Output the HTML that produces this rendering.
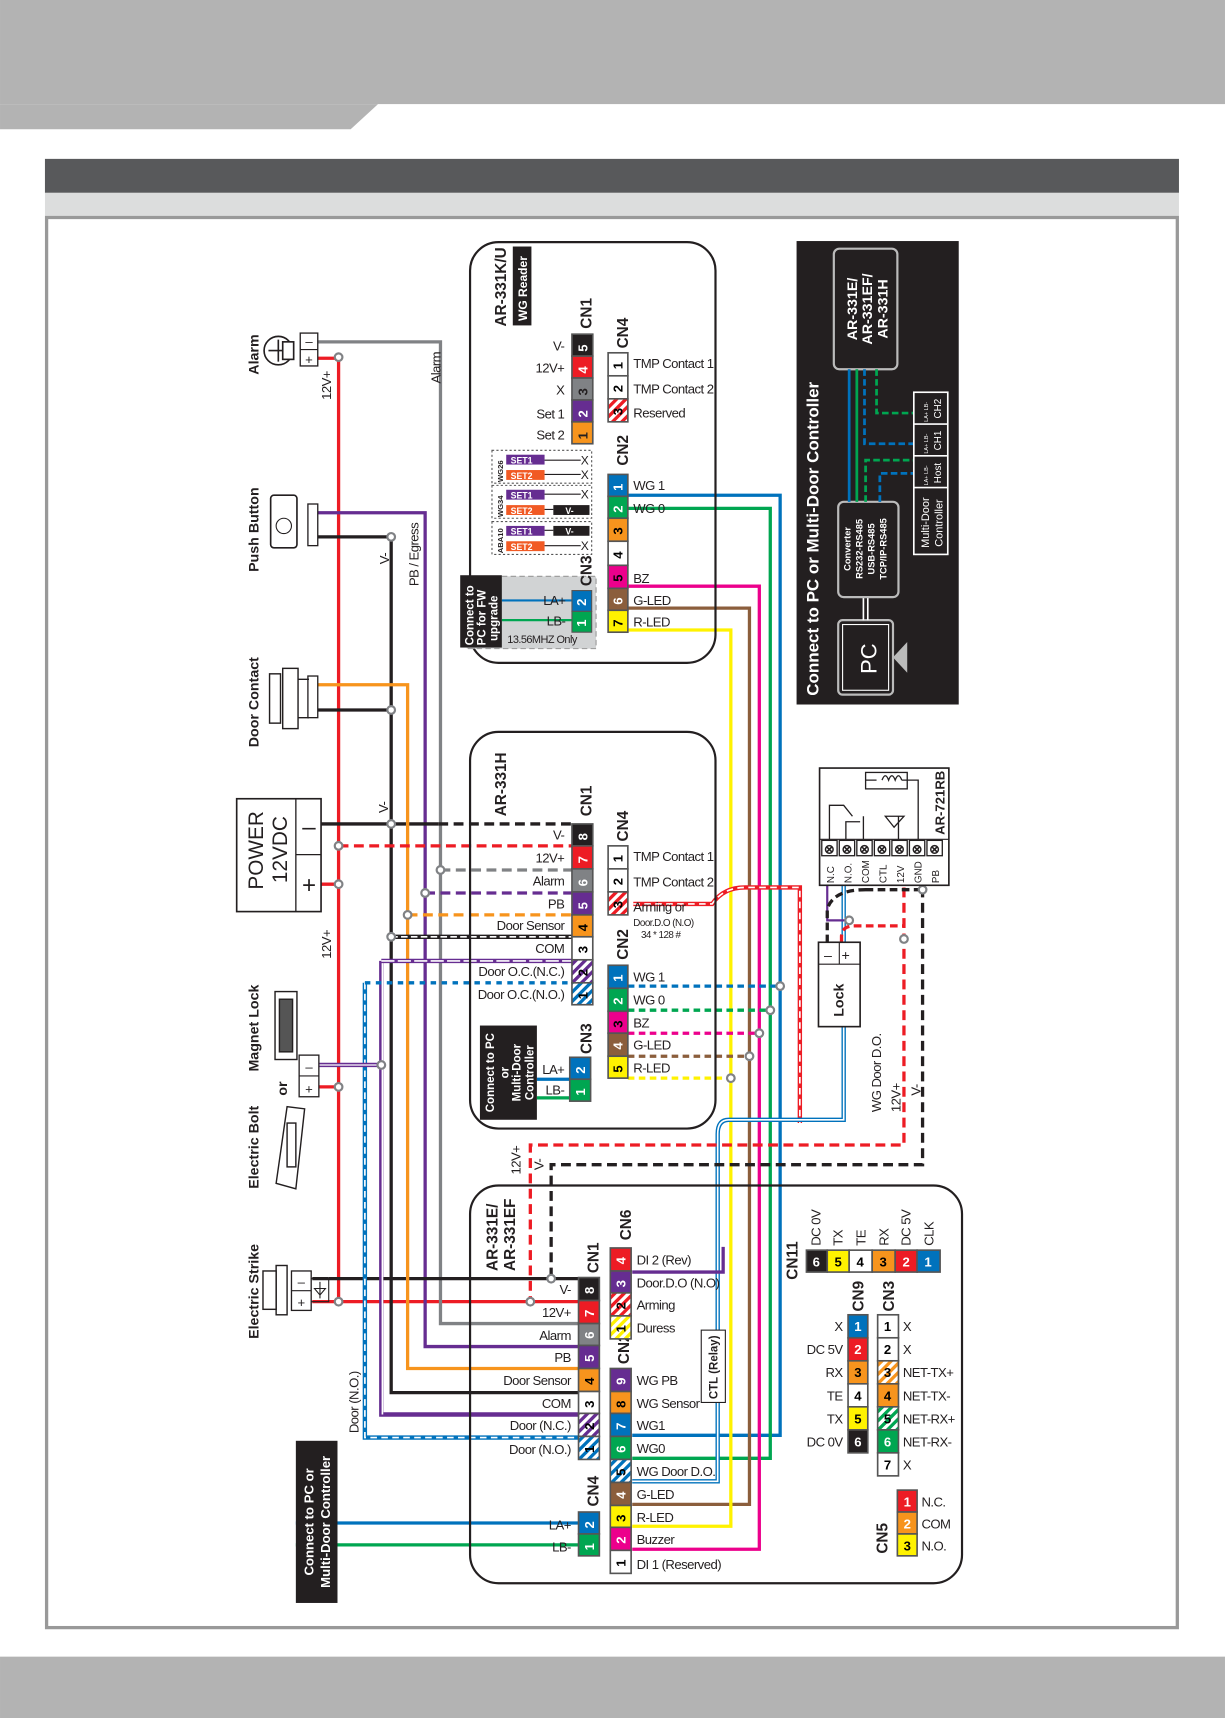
<!DOCTYPE html>
<html><head><meta charset="utf-8"><style>
html,body{margin:0;padding:0;background:#fff}
svg{display:block}
text{font-family:"Liberation Sans",sans-serif;}
.l{font-size:12px;fill:#231f20;letter-spacing:-0.5px}
.n{font-size:12px;font-weight:bold;}
.t{font-size:14px;font-weight:bold;fill:#231f20}
</style></head><body>
<svg width="1225" height="1718" viewBox="0 0 1118 1568" xmlns="http://www.w3.org/2000/svg">
<defs>
<pattern id="hr" width="6" height="6" patternUnits="userSpaceOnUse" patternTransform="rotate(45)"><rect width="6" height="6" fill="#fff"/><rect width="3" height="6" fill="#ed1c24"/></pattern>
<pattern id="hp" width="6" height="6" patternUnits="userSpaceOnUse" patternTransform="rotate(45)"><rect width="6" height="6" fill="#fff"/><rect width="3" height="6" fill="#662d91"/></pattern>
<pattern id="hb" width="6" height="6" patternUnits="userSpaceOnUse" patternTransform="rotate(45)"><rect width="6" height="6" fill="#fff"/><rect width="3" height="6" fill="#0072bc"/></pattern>
<pattern id="hy" width="6" height="6" patternUnits="userSpaceOnUse" patternTransform="rotate(45)"><rect width="6" height="6" fill="#fff"/><rect width="3" height="6" fill="#fff200"/></pattern>
<pattern id="ho" width="6" height="6" patternUnits="userSpaceOnUse" patternTransform="rotate(45)"><rect width="6" height="6" fill="#fff"/><rect width="3" height="6" fill="#f7941d"/></pattern>
<pattern id="hg" width="6" height="6" patternUnits="userSpaceOnUse" patternTransform="rotate(45)"><rect width="6" height="6" fill="#fff"/><rect width="3" height="6" fill="#00a651"/></pattern>
</defs>
<!-- page chrome -->
<rect x="0" y="0" width="1118" height="95" fill="#b3b3b3"/>
<polygon points="0,95 345,95 320,118 0,118" fill="#b3b3b3"/>
<rect x="41" y="145" width="1035" height="31" fill="#58595b"/>
<rect x="41" y="176" width="1035" height="21" fill="#dcdddd"/>
<rect x="42.5" y="198.5" width="1032" height="1287" fill="none" stroke="#999" stroke-width="3"/>
<rect x="0" y="1512" width="1118" height="56" fill="#b3b3b3"/>

<!-- ================= WIRES (left bus) ================= -->
<g fill="none" stroke-width="3">
<path d="M290,327 H309 V1188 H528" stroke="#ed1c24"/>
<path d="M290,807 H309" stroke="#ed1c24"/>
<path d="M290,992 H309" stroke="#ed1c24"/>
<path d="M290,312 H402 V1208 H528" stroke="#808285"/>
<path d="M290,468 H388 V1229 H528" stroke="#662d91"/>
<path d="M290,490 H357 V1271 H528" stroke="#231f20"/>
<path d="M290,648 H357" stroke="#231f20"/>
<path d="M290,752 H400" stroke="#231f20"/>
<path d="M300,1167 H528" stroke="#231f20"/>
<path d="M290,625 H372 V1249 H528" stroke="#f7941d"/>
<path d="M348,877 V1291 H528" stroke="#662d91" stroke-width="4"/>
<path d="M349,877 V1291" stroke="#fff" stroke-width="1.5"/>
<path d="M333,897 V1312 H528" stroke="#0072bc" stroke-width="4"/>
<path d="M333,897 V1312 H528" stroke="#fff" stroke-width="1.5" stroke-dasharray="6 4"/>
<path d="M290,972 H348" stroke="#662d91" stroke-width="4"/>
<path d="M290,972 H348" stroke="#fff" stroke-width="1.2"/>
<path d="M285,1167 H300" stroke="#231f20"/>
<path d="M285,1188 H309" stroke="#ed1c24"/>
<path d="M400,752 H522" stroke="#231f20" stroke-dasharray="9 5"/>
<path d="M309,772 H522" stroke="#ed1c24" stroke-dasharray="9 5"/>
<path d="M402,794 H522" stroke="#808285" stroke-dasharray="9 5"/>
<path d="M388,815 H522" stroke="#662d91" stroke-dasharray="9 5"/>
<path d="M372,835 H522" stroke="#f7941d" stroke-dasharray="9 5"/>
<path d="M357,855 H522" stroke="#231f20" stroke-width="4"/><path d="M357,855 H522" stroke="#fff" stroke-width="1.5" stroke-dasharray="6 3"/>
<path d="M348,877 H522" stroke="#662d91" stroke-width="4"/><path d="M348,877 H522" stroke="#fff" stroke-width="1.5" stroke-dasharray="12 3"/>
<path d="M333,897 H522" stroke="#0072bc" stroke-dasharray="5 5"/>
<path d="M270,1390 H528" stroke="#0072bc"/>
<path d="M270,1410 H528" stroke="#00a651"/>
<path d="M490,985 H520" stroke="#0072bc"/>
<path d="M490,1002 H520" stroke="#00a651"/>
<path d="M458,548 H522" stroke="#0072bc"/>
<path d="M458,566 H522" stroke="#00a651"/>
</g>

<!-- ================= WIRES (right side) ================= -->
<g fill="none" stroke-width="3">
<path d="M573,452 H712 V1310 H577" stroke="#0072bc"/>
<path d="M573,464 H703 V1331 H577" stroke="#00a651"/>
<path d="M573,535 H693 V1414 H577" stroke="#ec008c"/>
<path d="M573,555 H684 V1373 H577" stroke="#8b5e3c"/>
<path d="M573,575 H667 V1393 H577" stroke="#fff200"/>
<path d="M573,900 H712" stroke="#0072bc" stroke-dasharray="6 4"/>
<path d="M573,922 H703" stroke="#00a651" stroke-dasharray="6 4"/>
<path d="M573,943 H693" stroke="#ec008c" stroke-dasharray="6 4"/>
<path d="M573,964 H684" stroke="#8b5e3c" stroke-dasharray="6 4"/>
<path d="M573,984 H667" stroke="#fff200" stroke-dasharray="6 4"/>
<path d="M578,825 H650 Q660,810 680,810 H730 V1025" stroke="#ed1c24" stroke-width="4"/>
<path d="M578,825 H650 Q660,810 680,810 H730 V1025" stroke="#fff" stroke-width="1.5" stroke-dasharray="6 4"/>
<path d="M770,808 V1022 H665 Q655,1022 655,1035 V1352 H577" stroke="#0072bc" stroke-width="4"/>
<path d="M770,808 V1022 H665 Q655,1022 655,1035 V1352 H577" stroke="#fff" stroke-width="1.5"/>
<path d="M755,808 V840 H775" stroke="#662d91" stroke-width="2"/>
<path d="M825,782 V1045 H484 V1188" stroke="#ed1c24" stroke-dasharray="9 5"/>
<path d="M842,782 V1063 H503 V1167" stroke="#231f20" stroke-dasharray="9 5"/>
<path d="M768,860 V855 Q768,845 780,845 H825" stroke="#ed1c24" stroke-dasharray="7 4"/>
<path d="M755,860 V830 Q760,812 790,812 V800 M790,812 H842" stroke="#231f20" stroke-dasharray="7 4"/>
</g>
<g fill="#fff" stroke="#808285" stroke-width="2">
<circle cx="309" cy="326" r="3.5"/><circle cx="357" cy="490" r="3.5"/><circle cx="357" cy="648" r="3.5"/>
<circle cx="309" cy="772" r="3.5"/><circle cx="309" cy="807" r="3.5"/><circle cx="357" cy="752" r="3.5"/>
<circle cx="402" cy="794" r="3.5"/><circle cx="388" cy="815" r="3.5"/><circle cx="372" cy="835" r="3.5"/><circle cx="357" cy="855" r="3.5"/>
<circle cx="309" cy="992" r="3.5"/><circle cx="348" cy="972" r="3.5"/><circle cx="309" cy="1188" r="3.5"/>
<circle cx="484" cy="1188" r="3.5"/><circle cx="503" cy="1167" r="3.5"/>
<circle cx="712" cy="900" r="3.5"/><circle cx="703" cy="922" r="3.5"/><circle cx="693" cy="943" r="3.5"/><circle cx="684" cy="964" r="3.5"/><circle cx="667" cy="984" r="3.5"/>
<circle cx="825" cy="857" r="3.5"/><circle cx="842" cy="812" r="3.5"/><circle cx="775" cy="840" r="3.5"/>
</g>

<!-- ================= AR-331K/U ================= -->
<rect x="429" y="221" width="224" height="384" rx="26" fill="none" stroke="#231f20" stroke-width="2"/>
<text class="t" font-size="15" transform="translate(462,298) rotate(-90)">AR-331K/U</text>
<rect x="468" y="225" width="17" height="72" fill="#231f20"/>
<text transform="translate(481,293) rotate(-90)" font-size="11" font-weight="bold" fill="#fff">WG Reader</text>
<text class="t" font-size="11" transform="translate(540,300) rotate(-90)">CN1</text>
<g stroke="#555" stroke-width="1.5">
<rect x="522" y="305" width="19" height="20" fill="#231f20"/><rect x="522" y="325" width="19" height="20" fill="#ed1c24"/><rect x="522" y="345" width="19" height="20" fill="#808285"/><rect x="522" y="365" width="19" height="20" fill="#662d91"/><rect x="522" y="385" width="19" height="20" fill="#f7941d"/>
<rect x="555" y="322" width="18" height="21" fill="#fff"/><rect x="555" y="343" width="18" height="21" fill="#fff"/><rect x="555" y="364" width="18" height="21" fill="url(#hr)"/>
<rect x="555" y="433" width="18" height="20" fill="#0072bc"/><rect x="555" y="453" width="18" height="20" fill="#00a651"/><rect x="555" y="473" width="18" height="21" fill="#f7941d"/><rect x="555" y="494" width="18" height="22" fill="#fff"/><rect x="555" y="516" width="18" height="21" fill="#ec008c"/><rect x="555" y="537" width="18" height="20" fill="#8b5e3c"/><rect x="555" y="557" width="18" height="20" fill="#fff200"/>
</g>
<g class="n" font-size="11">
<text transform="translate(536,321) rotate(-90)" fill="#fff">5</text><text transform="translate(536,341) rotate(-90)" fill="#fff">4</text><text transform="translate(536,361) rotate(-90)" fill="#231f20">3</text><text transform="translate(536,381) rotate(-90)" fill="#fff">2</text><text transform="translate(536,401) rotate(-90)" fill="#231f20">1</text>
<text transform="translate(568,337) rotate(-90)">1</text><text transform="translate(568,358) rotate(-90)">2</text><text transform="translate(568,379) rotate(-90)">3</text>
<text transform="translate(568,448) rotate(-90)" fill="#fff">1</text><text transform="translate(568,468) rotate(-90)" fill="#fff">2</text><text transform="translate(568,488) rotate(-90)">3</text><text transform="translate(568,510) rotate(-90)">4</text><text transform="translate(568,531) rotate(-90)">5</text><text transform="translate(568,552) rotate(-90)" fill="#fff">6</text><text transform="translate(568,572) rotate(-90)">7</text>
</g>
<g class="l" text-anchor="end">
<text x="515" y="320">V-</text><text x="515" y="340">12V+</text><text x="515" y="360">X</text><text x="515" y="382">Set 1</text><text x="515" y="401">Set 2</text>
</g>
<g class="l">
<text x="578" y="336">TMP Contact 1</text><text x="578" y="359">TMP Contact 2</text><text x="578" y="381">Reserved</text>
<text x="578" y="447">WG 1</text><text x="578" y="468">WG 0</text><text x="578" y="532">BZ</text><text x="578" y="552">G-LED</text><text x="578" y="572">R-LED</text>
</g>
<text class="t" font-size="11" transform="translate(573,318) rotate(-90)">CN4</text>
<text class="t" font-size="11" transform="translate(573,425) rotate(-90)">CN2</text>
<g stroke="#555" stroke-dasharray="2 2" fill="none" stroke-width="1"><rect x="449" y="411" width="91" height="30"/><rect x="449" y="443" width="91" height="30"/><rect x="449" y="476" width="91" height="30"/></g>
<g font-size="7" font-weight="bold" fill="#231f20"><text transform="translate(459,440) rotate(-90)">WG26</text><text transform="translate(459,472) rotate(-90)">WG34</text><text transform="translate(459,505) rotate(-90)">ABA10</text></g>
<g font-size="8" font-weight="bold" fill="#fff">
<rect x="462" y="415" width="35" height="9" fill="#662d91"/><text x="466" y="423">SET1</text>
<rect x="462" y="429" width="35" height="9" fill="#f15a24"/><text x="466" y="437">SET2</text>
<rect x="462" y="447" width="35" height="9" fill="#662d91"/><text x="466" y="455">SET1</text>
<rect x="462" y="461" width="35" height="9" fill="#f15a24"/><text x="466" y="469">SET2</text>
<rect x="505" y="461" width="33" height="9" fill="#231f20"/><text x="516" y="469">V-</text>
<rect x="462" y="480" width="35" height="9" fill="#662d91"/><text x="466" y="488">SET1</text>
<rect x="505" y="480" width="33" height="9" fill="#231f20"/><text x="516" y="488">V-</text>
<rect x="462" y="494" width="35" height="9" fill="#f15a24"/><text x="466" y="502">SET2</text>
</g>
<g stroke="#231f20" stroke-width="1"><path d="M497,420 H530 M497,433 H530 M497,451 H530 M497,465 H505 M497,484 H505 M497,498 H530"/></g>
<g font-size="11" fill="#231f20"><text x="530" y="424">X</text><text x="530" y="437">X</text><text x="530" y="455">X</text><text x="530" y="502">X</text></g>
<rect x="426" y="526" width="118" height="66" fill="#d1d3d4" stroke="#999" stroke-dasharray="5 3"/>
<path d="M458,548 H522" stroke="#0072bc" stroke-width="2"/><path d="M458,566 H522" stroke="#00a651" stroke-width="2"/>
<rect x="522" y="539" width="18" height="19" fill="#0072bc" stroke="#555"/><rect x="522" y="558" width="18" height="19" fill="#00a651" stroke="#555"/>
<text class="n" font-size="10" transform="translate(535,553) rotate(-90)" fill="#fff">2</text><text class="n" font-size="10" transform="translate(535,572) rotate(-90)" fill="#fff">1</text>
<g class="l" text-anchor="end"><text x="516" y="552">LA+</text><text x="516" y="571">LB-</text></g>
<text x="463" y="587" font-size="10" fill="#231f20" letter-spacing="-0.5">13.56MHZ Only</text>
<text class="t" font-size="11" transform="translate(540,535) rotate(-90)">CN3</text>
<rect x="420" y="525" width="38" height="66" fill="#231f20"/>
<g font-size="10.5" font-weight="bold" fill="#fff"><text transform="translate(432,589) rotate(-90)">Connect to</text><text transform="translate(443,589) rotate(-90)">PC for FW</text><text transform="translate(454,585) rotate(-90)">upgrade</text></g>

<!-- ================= AR-331H ================= -->
<rect x="429" y="668" width="224" height="362" rx="26" fill="none" stroke="#231f20" stroke-width="2"/>
<text class="t" font-size="15" transform="translate(462,745) rotate(-90)">AR-331H</text>
<text class="t" font-size="11" transform="translate(540,745) rotate(-90)">CN1</text>
<g stroke="#555" stroke-width="1.5">
<rect x="522" y="752" width="19" height="20" fill="#231f20"/><rect x="522" y="772" width="19" height="21" fill="#ed1c24"/><rect x="522" y="793" width="19" height="21" fill="#808285"/><rect x="522" y="814" width="19" height="21" fill="#662d91"/><rect x="522" y="835" width="19" height="20" fill="#f7941d"/><rect x="522" y="855" width="19" height="21" fill="#fff"/><rect x="522" y="876" width="19" height="21" fill="url(#hp)"/><rect x="522" y="897" width="19" height="20" fill="url(#hb)"/>
<rect x="555" y="772" width="18" height="21" fill="#fff"/><rect x="555" y="793" width="18" height="21" fill="#fff"/><rect x="555" y="814" width="18" height="21" fill="url(#hr)"/>
<rect x="555" y="881" width="18" height="21" fill="#0072bc"/><rect x="555" y="902" width="18" height="21" fill="#00a651"/><rect x="555" y="923" width="18" height="20" fill="#ec008c"/><rect x="555" y="943" width="18" height="21" fill="#8b5e3c"/><rect x="555" y="964" width="18" height="20" fill="#fff200"/>
<rect x="520" y="965" width="19" height="20" fill="#0072bc"/><rect x="520" y="985" width="19" height="20" fill="#00a651"/>
</g>
<g class="n" font-size="11">
<text transform="translate(536,767) rotate(-90)" fill="#fff">8</text><text transform="translate(536,788) rotate(-90)" fill="#fff">7</text><text transform="translate(536,809) rotate(-90)" fill="#fff">6</text><text transform="translate(536,830) rotate(-90)" fill="#fff">5</text><text transform="translate(536,850) rotate(-90)">4</text><text transform="translate(536,870) rotate(-90)">3</text><text transform="translate(536,891) rotate(-90)">2</text><text transform="translate(536,912) rotate(-90)">1</text>
<text transform="translate(568,787) rotate(-90)">1</text><text transform="translate(568,808) rotate(-90)">2</text><text transform="translate(568,829) rotate(-90)">3</text>
<text transform="translate(568,896) rotate(-90)" fill="#fff">1</text><text transform="translate(568,917) rotate(-90)" fill="#fff">2</text><text transform="translate(568,938) rotate(-90)">3</text><text transform="translate(568,958) rotate(-90)" fill="#fff">4</text><text transform="translate(568,979) rotate(-90)">5</text>
<text transform="translate(534,980) rotate(-90)" fill="#fff">2</text><text transform="translate(534,1000) rotate(-90)" fill="#fff">1</text>
</g>
<g class="l" text-anchor="end">
<text x="515" y="766">V-</text><text x="515" y="787">12V+</text><text x="515" y="808">Alarm</text><text x="515" y="829">PB</text><text x="515" y="849">Door Sensor</text><text x="515" y="870">COM</text><text x="515" y="891">Door O.C.(N.C.)</text><text x="515" y="912">Door O.C.(N.O.)</text>
<text x="515" y="980">LA+</text><text x="515" y="999">LB-</text>
</g>
<g class="l">
<text x="578" y="786">TMP Contact 1</text><text x="578" y="809">TMP Contact 2</text><text x="578" y="832">Arming or</text>
<text x="578" y="845" font-size="9">Door.D.O (N.O)</text><text x="585" y="856" font-size="9">34 * 128 #</text>
<text x="578" y="896">WG 1</text><text x="578" y="917">WG 0</text><text x="578" y="938">BZ</text><text x="578" y="958">G-LED</text><text x="578" y="979">R-LED</text>
</g>
<text class="t" font-size="11" transform="translate(573,768) rotate(-90)">CN4</text>
<text class="t" font-size="11" transform="translate(573,876) rotate(-90)">CN2</text>
<text class="t" font-size="11" transform="translate(540,962) rotate(-90)">CN3</text>
<rect x="438" y="936" width="52" height="86" fill="#231f20"/>
<g font-size="10.5" font-weight="bold" fill="#fff" text-anchor="middle"><text transform="translate(451,979) rotate(-90)">Connect to PC</text><text transform="translate(464,979) rotate(-90)">or</text><text transform="translate(475,979) rotate(-90)">Multi-Door</text><text transform="translate(487,979) rotate(-90)">Controller</text></g>

<!-- ================= AR-331E/EF ================= -->
<rect x="429" y="1082" width="449" height="363" rx="26" fill="none" stroke="#231f20" stroke-width="2"/>
<text class="t" font-size="15" transform="translate(454,1160) rotate(-90)">AR-331E/</text>
<text class="t" font-size="15" transform="translate(470,1160) rotate(-90)">AR-331EF</text>
<text class="t" font-size="11" transform="translate(546,1162) rotate(-90)">CN1</text>
<text class="t" font-size="11" transform="translate(576,1132) rotate(-90)">CN6</text>
<text class="t" font-size="11" transform="translate(574,1245) rotate(-90)">CN2</text>
<text class="t" font-size="11" transform="translate(546,1375) rotate(-90)">CN4</text>
<g stroke="#555" stroke-width="1.5">
<rect x="528" y="1166" width="19" height="21" fill="#231f20"/><rect x="528" y="1187" width="19" height="21" fill="#ed1c24"/><rect x="528" y="1208" width="19" height="20" fill="#808285"/><rect x="528" y="1228" width="19" height="21" fill="#662d91"/><rect x="528" y="1249" width="19" height="21" fill="#f7941d"/><rect x="528" y="1270" width="19" height="20" fill="#fff"/><rect x="528" y="1290" width="19" height="21" fill="url(#hp)"/><rect x="528" y="1311" width="19" height="21" fill="url(#hb)"/>
<rect x="557" y="1139" width="19" height="21" fill="#ed1c24"/><rect x="557" y="1160" width="19" height="20" fill="#662d91"/><rect x="557" y="1180" width="19" height="21" fill="url(#hr)"/><rect x="557" y="1201" width="19" height="21" fill="url(#hy)"/>
<rect x="557" y="1249" width="19" height="21" fill="#662d91"/><rect x="557" y="1270" width="19" height="20" fill="#f7941d"/><rect x="557" y="1290" width="19" height="21" fill="#0072bc"/><rect x="557" y="1311" width="19" height="21" fill="#00a651"/><rect x="557" y="1332" width="19" height="21" fill="url(#hb)"/><rect x="557" y="1353" width="19" height="21" fill="#8b5e3c"/><rect x="557" y="1374" width="19" height="20" fill="#fff200"/><rect x="557" y="1394" width="19" height="21" fill="#ec008c"/><rect x="557" y="1415" width="19" height="21" fill="#fff"/>
<rect x="528" y="1380" width="19" height="20" fill="#0072bc"/><rect x="528" y="1400" width="19" height="20" fill="#00a651"/>
</g>
<g class="n" font-size="11">
<text transform="translate(542,1181) rotate(-90)" fill="#fff">8</text><text transform="translate(542,1202) rotate(-90)" fill="#fff">7</text><text transform="translate(542,1222) rotate(-90)" fill="#fff">6</text><text transform="translate(542,1243) rotate(-90)" fill="#fff">5</text><text transform="translate(542,1264) rotate(-90)">4</text><text transform="translate(542,1285) rotate(-90)">3</text><text transform="translate(542,1305) rotate(-90)">2</text><text transform="translate(542,1326) rotate(-90)">1</text>
<text transform="translate(571,1154) rotate(-90)" fill="#fff">4</text><text transform="translate(571,1175) rotate(-90)" fill="#fff">3</text><text transform="translate(571,1195) rotate(-90)">2</text><text transform="translate(571,1216) rotate(-90)">1</text>
<text transform="translate(571,1264) rotate(-90)" fill="#fff">9</text><text transform="translate(571,1285) rotate(-90)">8</text><text transform="translate(571,1305) rotate(-90)" fill="#fff">7</text><text transform="translate(571,1326) rotate(-90)" fill="#fff">6</text><text transform="translate(571,1347) rotate(-90)">5</text><text transform="translate(571,1368) rotate(-90)" fill="#fff">4</text><text transform="translate(571,1389) rotate(-90)">3</text><text transform="translate(571,1409) rotate(-90)" fill="#fff">2</text><text transform="translate(571,1430) rotate(-90)">1</text>
<text transform="translate(542,1395) rotate(-90)" fill="#fff">2</text><text transform="translate(542,1415) rotate(-90)" fill="#fff">1</text>
</g>
<g class="l" text-anchor="end">
<text x="521" y="1181">V-</text><text x="521" y="1202">12V+</text><text x="521" y="1223">Alarm</text><text x="521" y="1243">PB</text><text x="521" y="1264">Door Sensor</text><text x="521" y="1285">COM</text><text x="521" y="1305">Door (N.C.)</text><text x="521" y="1327">Door (N.O.)</text>
<text x="521" y="1396">LA+</text><text x="521" y="1416">LB-</text>
</g>
<g class="l">
<text x="581" y="1154">DI 2 (Rev)</text><text x="581" y="1175">Door.D.O (N.O)</text><text x="581" y="1195">Arming</text><text x="581" y="1216">Duress</text>
<text x="581" y="1264">WG PB</text><text x="581" y="1285">WG Sensor</text><text x="581" y="1305">WG1</text><text x="581" y="1326">WG0</text><text x="581" y="1347">WG Door D.O.</text><text x="581" y="1368">G-LED</text><text x="581" y="1389">R-LED</text><text x="581" y="1409">Buzzer</text><text x="581" y="1432">DI 1 (Reserved)</text>
</g>
<path d="M577,1161 H660 V1138" fill="none" stroke="#662d91" stroke-width="3"/>
<rect x="640" y="1214" width="22" height="66" fill="#fff" stroke="#231f20"/>
<text transform="translate(655,1277) rotate(-90)" font-size="10.5" font-weight="bold" fill="#231f20">CTL (Relay)</text>
<text class="t" font-size="11" transform="translate(728,1168) rotate(-90)">CN11</text>
<g stroke="#555" stroke-width="1.5">
<rect x="736" y="1141" width="19" height="20" fill="#231f20"/><rect x="755" y="1141" width="20" height="20" fill="#fff200"/><rect x="775" y="1141" width="21" height="20" fill="#fff"/><rect x="796" y="1141" width="21" height="20" fill="#f7941d"/><rect x="817" y="1141" width="20" height="20" fill="#ed1c24"/><rect x="837" y="1141" width="21" height="20" fill="#0072bc"/>
</g>
<g class="n" font-size="11" text-anchor="middle"><text x="745" y="1156" fill="#fff">6</text><text x="765" y="1156">5</text><text x="785" y="1156">4</text><text x="806" y="1156">3</text><text x="827" y="1156" fill="#fff">2</text><text x="847" y="1156" fill="#fff">1</text></g>
<g class="l"><text transform="translate(749,1137) rotate(-90)">DC 0V</text><text transform="translate(769,1137) rotate(-90)">TX</text><text transform="translate(790,1137) rotate(-90)">TE</text><text transform="translate(811,1137) rotate(-90)">RX</text><text transform="translate(831,1137) rotate(-90)">DC 5V</text><text transform="translate(852,1137) rotate(-90)">CLK</text></g>
<text class="t" font-size="11" transform="translate(788,1197) rotate(-90)">CN9</text>
<text class="t" font-size="11" transform="translate(816,1197) rotate(-90)">CN3</text>
<g stroke="#555" stroke-width="1.5">
<rect x="774" y="1200" width="18" height="21" fill="#0072bc"/><rect x="774" y="1221" width="18" height="21" fill="#ed1c24"/><rect x="774" y="1242" width="18" height="21" fill="#f7941d"/><rect x="774" y="1263" width="18" height="21" fill="#fff"/><rect x="774" y="1284" width="18" height="21" fill="#fff200"/><rect x="774" y="1305" width="18" height="21" fill="#231f20"/>
<rect x="801" y="1200" width="19" height="21" fill="#fff"/><rect x="801" y="1221" width="19" height="21" fill="#fff"/><rect x="801" y="1242" width="19" height="21" fill="url(#ho)"/><rect x="801" y="1263" width="19" height="21" fill="#f7941d"/><rect x="801" y="1284" width="19" height="21" fill="url(#hg)"/><rect x="801" y="1305" width="19" height="21" fill="#00a651"/><rect x="801" y="1326" width="19" height="21" fill="#fff"/>
</g>
<g class="n" font-size="11" text-anchor="middle"><text x="783" y="1215" fill="#fff">1</text><text x="783" y="1236" fill="#fff">2</text><text x="783" y="1257">3</text><text x="783" y="1278">4</text><text x="783" y="1299">5</text><text x="783" y="1320" fill="#fff">6</text>
<text x="810" y="1215">1</text><text x="810" y="1236">2</text><text x="810" y="1257">3</text><text x="810" y="1278">4</text><text x="810" y="1299">5</text><text x="810" y="1320" fill="#fff">6</text><text x="810" y="1341">7</text></g>
<g class="l" text-anchor="end"><text x="769" y="1215">X</text><text x="769" y="1236">DC 5V</text><text x="769" y="1257">RX</text><text x="769" y="1278">TE</text><text x="769" y="1299">TX</text><text x="769" y="1320">DC 0V</text></g>
<g class="l"><text x="824" y="1215">X</text><text x="824" y="1236">X</text><text x="824" y="1257">NET-TX+</text><text x="824" y="1278">NET-TX-</text><text x="824" y="1299">NET-RX+</text><text x="824" y="1320">NET-RX-</text><text x="824" y="1341">X</text></g>
<text class="t" font-size="11" transform="translate(810,1418) rotate(-90)">CN5</text>
<g stroke="#555" stroke-width="1.5"><rect x="819" y="1360" width="18" height="20" fill="#ed1c24"/><rect x="819" y="1380" width="18" height="20" fill="#f7941d"/><rect x="819" y="1400" width="18" height="20" fill="#fff200"/></g>
<g class="n" font-size="11" text-anchor="middle"><text x="828" y="1375" fill="#fff">1</text><text x="828" y="1395" fill="#fff">2</text><text x="828" y="1415">3</text></g>
<g class="l"><text x="841" y="1375">N.C.</text><text x="841" y="1395">COM</text><text x="841" y="1415">N.O.</text></g>

<!-- ================= Right black panel ================= -->
<rect x="727" y="220" width="148" height="423" fill="#231f20"/>
<text transform="translate(747,635) rotate(-90)" font-size="15.5" font-weight="bold" fill="#fff">Connect to PC or Multi-Door Controller</text>
<rect x="765" y="566" width="50" height="68" rx="4" fill="none" stroke="#bbb" stroke-width="2"/>
<rect x="769" y="570" width="42" height="60" fill="none" stroke="#fff" stroke-width="1"/>
<text transform="translate(800,615) rotate(-90)" font-size="20" fill="#fff">PC</text>
<polygon points="815,600 828,586 828,614" fill="#bbb"/>
<path d="M788,566 V545 M792,566 V545" stroke="#fff" stroke-width="1.5"/>
<rect x="765" y="458" width="55" height="87" rx="5" fill="#231f20" stroke="#bbb" stroke-width="2"/>
<g font-size="8.5" font-weight="bold" fill="#fff" text-anchor="middle"><text transform="translate(776,501) rotate(-90)">Converter</text><text transform="translate(787,501) rotate(-90)">RS232-RS485</text><text transform="translate(798,501) rotate(-90)">USB-RS485</text><text transform="translate(809,501) rotate(-90)">TCP/IP-RS485</text></g>
<rect x="761" y="227" width="58" height="110" rx="5" fill="#231f20" stroke="#bbb" stroke-width="2"/>
<g font-size="13" font-weight="bold" fill="#fff" text-anchor="middle"><text transform="translate(782,282) rotate(-90)">AR-331E/</text><text transform="translate(796,282) rotate(-90)">AR-331EF/</text><text transform="translate(810,282) rotate(-90)">AR-331H</text></g>
<g fill="none" stroke-width="2.5">
<path d="M775,337 V458" stroke="#0072bc"/><path d="M782,337 V458" stroke="#00a651"/>
<path d="M789,337 V405 H835" stroke="#0072bc" stroke-dasharray="6 3"/><path d="M800,337 V377 H835" stroke="#00a651" stroke-dasharray="6 3"/>
<path d="M790,458 V420 H835" stroke="#00a651" stroke-dasharray="6 3"/><path d="M803,458 V432 H835" stroke="#0072bc" stroke-dasharray="6 3"/>
</g>
<rect x="834" y="358" width="31" height="148" fill="#231f20" stroke="#fff" stroke-width="1.5"/>
<path d="M834,387 H865 M834,416 H865 M834,445 H865" stroke="#fff" stroke-width="1.5"/>
<g font-size="9" fill="#fff"><text transform="translate(847,385) rotate(-90)" font-size="5">LA+ LB-</text><text transform="translate(859,382) rotate(-90)">CH2</text>
<text transform="translate(847,414) rotate(-90)" font-size="5">LA+ LB-</text><text transform="translate(859,411) rotate(-90)">CH1</text>
<text transform="translate(847,443) rotate(-90)" font-size="5">LA+ LB-</text><text transform="translate(859,441) rotate(-90)">Host</text>
<text transform="translate(848,500) rotate(-90)" font-size="10">Multi-Door</text><text transform="translate(860,499) rotate(-90)" font-size="10">Controller</text></g>

<!-- ================= AR-721RB ================= -->
<rect x="748" y="701" width="118" height="107" fill="#fff" stroke="#231f20" stroke-width="1.5"/>
<path d="M748,766 H866" stroke="#231f20"/>
<text transform="translate(862,762) rotate(-90)" font-size="12" font-weight="bold" fill="#231f20">AR-721RB</text>
<g fill="none" stroke="#231f20" stroke-width="1.2">
<path d="M757,766 V735 H770 L778,745 M788,766 V745 M790,712 H800 M805,712 Q808,704 811,712 Q814,704 817,712 Q820,704 823,712 M823,712 H838 V766 M820,766 V745 M808,745 H825 L816,755 Z M772,766 V750 H785"/>
<rect x="790" y="705" width="38" height="15"/>
</g>
<g stroke="#231f20" stroke-width="1.2" fill="#fff">
<rect x="750" y="767" width="14" height="14"/><rect x="766" y="767" width="14" height="14"/><rect x="782" y="767" width="14" height="14"/><rect x="798" y="767" width="14" height="14"/><rect x="814" y="767" width="14" height="14"/><rect x="830" y="767" width="14" height="14"/><rect x="846" y="767" width="14" height="14"/>
</g>
<g font-size="12" font-weight="bold" text-anchor="middle" fill="#231f20"><text x="757" y="779">⊗</text><text x="773" y="779">⊗</text><text x="789" y="779">⊗</text><text x="805" y="779">⊗</text><text x="821" y="779">⊗</text><text x="837" y="779">⊗</text><text x="853" y="779">⊗</text></g>
<g font-size="9" fill="#231f20"><text transform="translate(761,806) rotate(-90)">N.C</text><text transform="translate(777,806) rotate(-90)">N.O.</text><text transform="translate(793,806) rotate(-90)">COM</text><text transform="translate(809,806) rotate(-90)">CTL</text><text transform="translate(825,806) rotate(-90)">12V</text><text transform="translate(841,806) rotate(-90)">GND</text><text transform="translate(857,806) rotate(-90)">PB</text></g>
<rect x="747" y="860" width="38" height="77" fill="#fff" stroke="#231f20" stroke-width="1.5"/>
<path d="M747,880 H785 M766,860 V880" stroke="#231f20"/>
<text x="752" y="876" font-size="13" fill="#231f20">–</text><text x="768" y="876" font-size="13" fill="#231f20">+</text>
<text transform="translate(770,928) rotate(-90)" font-size="13" font-weight="bold" fill="#231f20">Lock</text>
<g class="l" font-size="11"><text transform="translate(804,1015) rotate(-90)">WG Door D.O.</text><text transform="translate(822,1015) rotate(-90)">12V+</text><text transform="translate(840,1000) rotate(-90)">V-</text></g>
<g class="l" font-size="11"><text transform="translate(475,1072) rotate(-90)">12V+</text><text transform="translate(496,1068) rotate(-90)">V-</text></g>

<!-- ================= Left devices ================= -->
<g font-size="13" font-weight="bold" fill="#231f20">
<text transform="translate(236,342) rotate(-90)">Alarm</text>
<text transform="translate(236,522) rotate(-90)">Push Button</text>
<text transform="translate(236,682) rotate(-90)">Door Contact</text>
<text transform="translate(236,978) rotate(-90)">Magnet Lock</text>
<text transform="translate(262,1000) rotate(-90)">or</text>
<text transform="translate(236,1085) rotate(-90)">Electric Bolt</text>
<text transform="translate(236,1222) rotate(-90)">Electric Strike</text>
</g>
<g fill="#fff" stroke="#231f20" stroke-width="1.2">
<rect x="274" y="304" width="16" height="30"/><rect x="281" y="460" width="9" height="38"/><rect x="281" y="617" width="9" height="38"/>
<rect x="273" y="963" width="18" height="38"/><rect x="266" y="1160" width="18" height="36"/>
</g>
<path d="M274,319 H290 M273,982 H291 M266,1178 H284" stroke="#231f20"/>
<g font-size="12" fill="#231f20" text-anchor="middle"><text x="282" y="316">–</text><text x="282" y="332">+</text><text x="282" y="978">–</text><text x="282" y="998">+</text><text x="275" y="1174">–</text><text x="275" y="1193">+</text></g>
<g fill="#fff" stroke="#231f20" stroke-width="1.5"><circle cx="254" cy="320" r="13"/><path d="M245,320 h18 M254,310 v20"/><rect x="258" y="312" width="10" height="16"/></g>
<rect x="247" y="452" width="24" height="48" rx="3" fill="#fff" stroke="#231f20" stroke-width="1.5"/><circle cx="259" cy="480" r="7" fill="#fff" stroke="#231f20"/>
<g fill="#fff" stroke="#231f20" stroke-width="1.3"><rect x="258" y="610" width="14" height="55"/><rect x="246" y="615" width="10" height="45"/><path d="M272,620 h10 M272,655 h10"/></g>
<rect x="216" y="729" width="77" height="103" fill="#fff" stroke="#231f20" stroke-width="1.5"/>
<path d="M270,729 V832 M270,780 H293" stroke="#231f20" stroke-width="1.2"/>
<text transform="translate(240,812) rotate(-90)" font-size="19" fill="#231f20">POWER</text>
<text transform="translate(262,806) rotate(-90)" font-size="19" fill="#231f20">12VDC</text>
<text x="282" y="762" font-size="22" text-anchor="middle" fill="#231f20">–</text><text x="282" y="815" font-size="22" text-anchor="middle" fill="#231f20">+</text>
<g fill="#fff" stroke="#231f20" stroke-width="1.3"><rect x="251" y="905" width="20" height="62"/><rect x="255" y="912" width="12" height="48" fill="#555"/></g>
<g fill="#fff" stroke="#231f20" stroke-width="1.3"><path d="M252,1080 L262,1010 L278,1012 L270,1085 Z"/><rect x="262" y="1025" width="8" height="40"/></g>
<g fill="#fff" stroke="#231f20" stroke-width="1.3"><rect x="252" y="1155" width="10" height="45"/><rect x="240" y="1160" width="12" height="35"/></g>
<path d="M284,1167 H300 V1188 H284 M292,1170 V1185 M287,1176 h10 l-5,6 z" stroke="#231f20" fill="none"/>
<g class="l" font-size="11">
<text transform="translate(302,365) rotate(-90)">12V+</text>
<text transform="translate(402,350) rotate(-90)">Alarm</text>
<text transform="translate(355,515) rotate(-90)">V-</text>
<text transform="translate(382,535) rotate(-90)">PB / Egress</text>
<text transform="translate(354,742) rotate(-90)">V-</text>
<text transform="translate(302,875) rotate(-90)">12V+</text>
<text transform="translate(327,1308) rotate(-90)">Door (N.O.)</text>
</g>
<rect x="270" y="1315" width="38" height="148" fill="#231f20"/>
<g font-size="12" font-weight="bold" fill="#fff" text-anchor="middle"><text transform="translate(286,1389) rotate(-90)">Connect to PC or</text><text transform="translate(301,1389) rotate(-90)">Multi-Door Controller</text></g>
</svg>
</body></html>
